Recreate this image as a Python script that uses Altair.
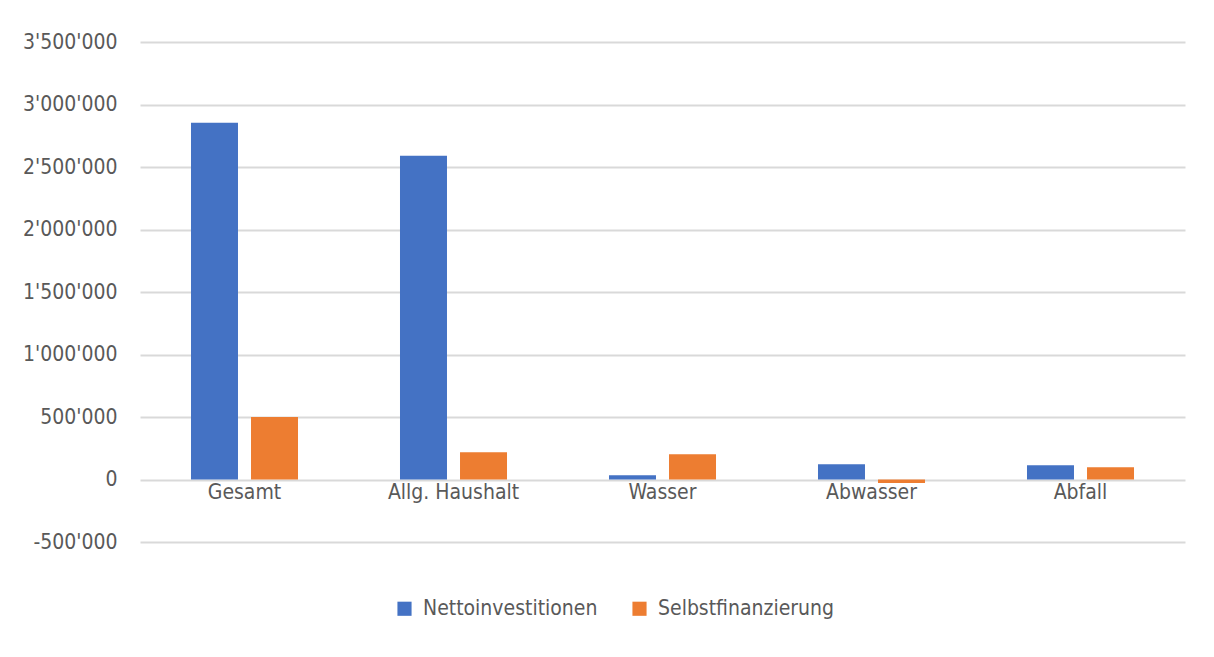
import altair as alt
import pandas as pd

categories = ["Gesamt", "Allg. Haushalt", "Wasser", "Abwasser", "Abfall"]
series = ["Nettoinvestitionen", "Selbstfinanzierung"]
netto = [2855000, 2590000, 35000, 123000, 115000]
selbst = [500000, 219000, 203000, -27000, 99000]
y_ticks = [-500000, 0, 500000, 1000000, 1500000, 2000000, 2500000, 3000000, 3500000]
colors = ["#4472c4", "#ed7d31"]

rows = []
for c, n, s in zip(categories, netto, selbst):
    rows.append({"Kategorie": c, "Serie": series[0], "Wert": n})
    rows.append({"Kategorie": c, "Serie": series[1], "Wert": s})
df = pd.DataFrame(rows)
cat_df = pd.DataFrame({"Kategorie": categories})

FONT = "DejaVu Sans Condensed"
TXT = "#595959"
FS = 21

xscale = alt.Scale(domain=categories, paddingInner=0.488, paddingOuter=0.244)

bars = alt.Chart(df).mark_bar().encode(
    x=alt.X("Kategorie:N", sort=categories, scale=xscale, axis=None),
    xOffset=alt.XOffset("Serie:N", sort=series,
                        scale=alt.Scale(domain=series, paddingInner=0.217, paddingOuter=0)),
    y=alt.Y("Wert:Q",
            scale=alt.Scale(domain=[-500000, 3500000], nice=False),
            axis=alt.Axis(values=y_ticks, title=None, grid=True, gridColor="#d9d9d9",
                          gridWidth=2, domain=False, ticks=False, labelPadding=23,
                          labelFontSize=FS, labelColor=TXT, labelFont=FONT,
                          labelExpr="replace(replace(format(datum.value, ','), /,/g, \"'\"), '\u2212', '-')")),
    color=alt.Color("Serie:N", sort=series,
                    scale=alt.Scale(domain=series, range=colors),
                    legend=alt.Legend(orient="none", legendX=254, legendY=556,
                                      direction="horizontal", title=None,
                                      symbolType="square", symbolSize=200,
                                      symbolStrokeWidth=0, labelFontSize=FS,
                                      labelFont=FONT, labelColor=TXT, labelLimit=0,
                                      labelOffset=8, columnPadding=31)),
)

labels = alt.Chart(cat_df).mark_text(
    baseline="middle", dy=13, fontSize=FS, font=FONT, color=TXT
).encode(
    x=alt.X("Kategorie:N", sort=categories, scale=xscale, axis=None),
    y=alt.datum(0),
    text="Kategorie:N",
)

chart = alt.layer(bars, labels).properties(
    width=1045, height=500,
    autosize=alt.AutoSizeParams(type="none"),
    padding={"left": 132, "top": 34, "right": 21, "bottom": 100},
).configure_view(stroke=None)

chart.save("out.html", embed_options={"renderer": "svg", "actions": False})
